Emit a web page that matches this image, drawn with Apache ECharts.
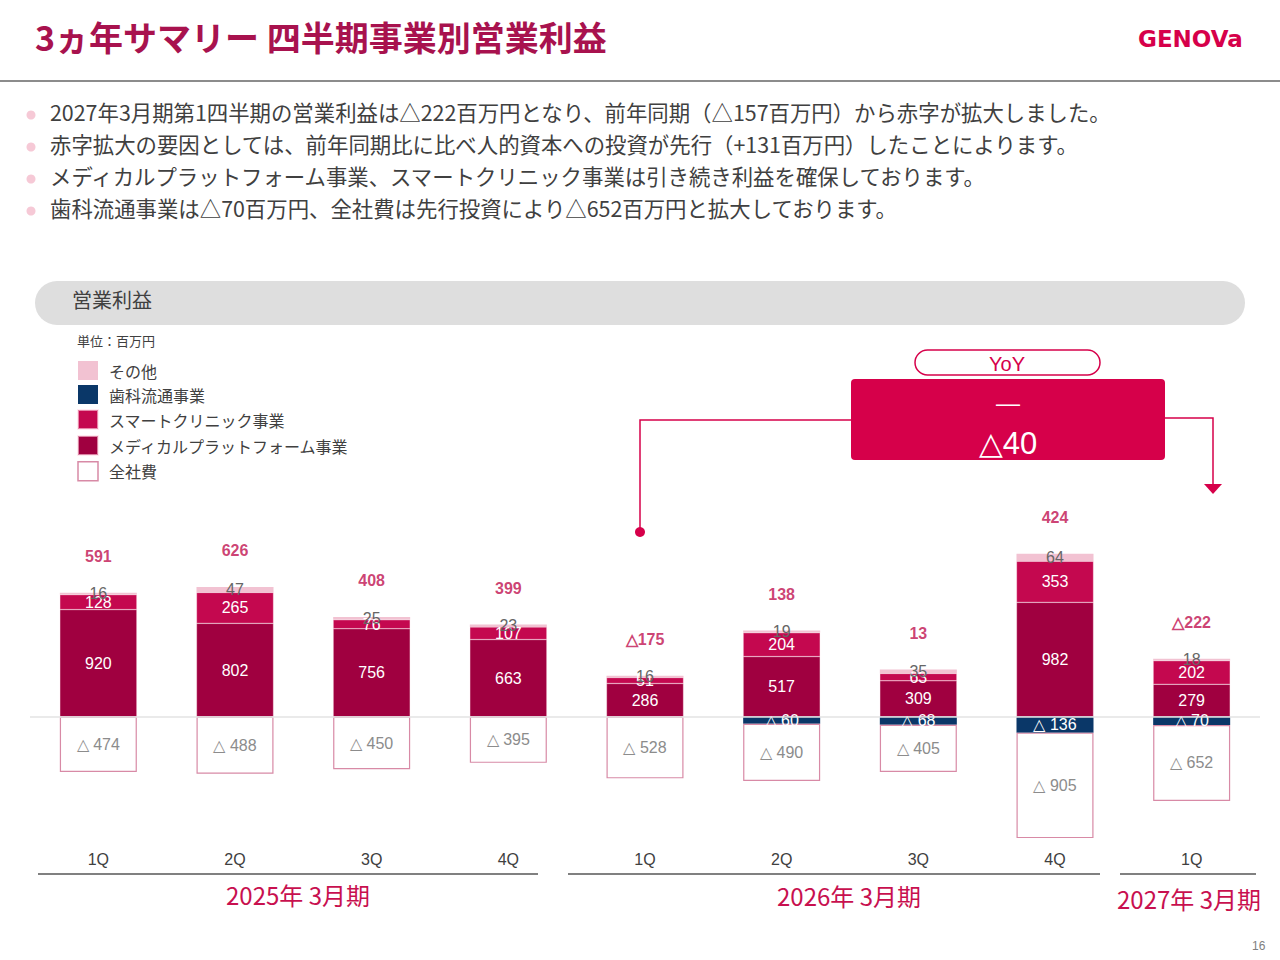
<html>
<head>
<meta charset="utf-8">
<script src="https://cdn.jsdelivr.net/npm/echarts@6/dist/echarts.min.js"></script>
<style>
  html, body { margin: 0; padding: 0; background: #fff; }
  #main { width: 1280px; height: 960px; }
</style>
</head>
<body>
<div id="main"></div>
<script type="text/javascript">
// 四半期ラベル
var categories = ['1Q', '2Q', '3Q', '4Q', '1Q', '2Q', '3Q', '4Q', '1Q'];
// 事業別営業利益（百万円）
var medical   = [920, 802, 756, 663, 286, 517, 309, 982, 279];
var smart     = [128, 265, 76, 107, 51, 204, 63, 353, 202];
var other     = [16, 47, 25, 23, 16, 19, 35, 64, 18];
var dental    = [null, null, null, null, null, -60, -68, -136, -70];
var corporate = [-474, -488, -450, -395, -528, -490, -405, -905, -652];
// 合計（資料記載値）
var totals    = [591, 626, 408, 399, -175, 138, 13, 424, -222];

var bullets = [
  '2027年3月期第1四半期の営業利益は△222百万円となり、前年同期（△157百万円）から赤字が拡大しました。',
  '赤字拡大の要因としては、前年同期比に比べ人的資本への投資が先行（+131百万円）したことによります。',
  'メディカルプラットフォーム事業、スマートクリニック事業は引き続き利益を確保しております。',
  '歯科流通事業は△70百万円、全社費は先行投資により△652百万円と拡大しております。'
];

var FONT = '"Noto Sans CJK JP", "Liberation Sans", sans-serif';
var NUM_FONT = '"Liberation Sans", Arial, sans-serif';
var C_MED = '#A00040', C_SMART = '#C4084F', C_OTHER = '#F2C2D2',
    C_DENTAL = '#0A3768', C_CORP_BORDER = '#D88AA6', C_RED = '#D6004A';

function tri(v, space) {
  if (v == null) return '';
  return v < 0 ? '△' + (space ? ' ' : '') + Math.abs(v) : String(v);
}

var positiveTop = medical.map(function (v, i) { return v + smart[i] + other[i]; });

var myChart = echarts.init(document.getElementById('main'), null, { renderer: 'svg' });

var graphics = [
  // ヘッダー
  { type: 'text', left: 35, top: 19, style: { text: '3ヵ年サマリー 四半期事業別営業利益', fill: '#A8124E',
      font: 'bold 34px ' + FONT } },
  { type: 'text', left: 1138, top: 27, style: { text: 'GENOVa', fill: C_RED,
      font: 'bold 23px "DejaVu Sans", sans-serif' } },
  { type: 'rect', shape: { x: 0, y: 80, width: 1280, height: 2 }, style: { fill: '#8C8C8C' } },
  // セクション見出し
  { type: 'rect', shape: { x: 35, y: 281, width: 1210, height: 44, r: 22 }, style: { fill: '#DEDEDE' } },
  { type: 'text', left: 72, top: 289, style: { text: '営業利益', fill: '#404040', font: '20px ' + FONT } },
  { type: 'text', left: 77, top: 334, style: { text: '単位：百万円', fill: '#404040', font: '13px ' + FONT } },
  // YoY
  { type: 'rect', shape: { x: 915, y: 350, width: 185, height: 25, r: 12.5 },
    style: { fill: '#fff', stroke: C_RED, lineWidth: 1.5 } },
  { type: 'text', x: 1007, y: 364, style: { text: 'YoY', fill: C_RED, font: '20px ' + NUM_FONT,
      align: 'center', verticalAlign: 'middle' } },
  { type: 'polyline', shape: { points: [[640, 531], [640, 420], [851, 420]] },
    style: { stroke: C_RED, lineWidth: 1.5, fill: null } },
  { type: 'circle', shape: { cx: 640, cy: 532, r: 5 }, style: { fill: C_RED } },
  { type: 'polyline', shape: { points: [[1165, 418], [1213, 418], [1213, 486]] },
    style: { stroke: C_RED, lineWidth: 1.5, fill: null } },
  { type: 'polygon', shape: { points: [[1204, 484], [1222, 484], [1213, 494]] }, style: { fill: C_RED } },
  { type: 'rect', shape: { x: 851, y: 379, width: 314, height: 81, r: 4 }, style: { fill: C_RED } },
  { type: 'text', x: 1008, y: 402, style: { text: '—', fill: '#fff', font: '24px ' + NUM_FONT,
      align: 'center', verticalAlign: 'middle' } },
  { type: 'text', x: 1008, y: 443, style: { text: '△40', fill: '#fff', font: '31px ' + NUM_FONT,
      align: 'center', verticalAlign: 'middle' } },
  // 期区分
  { type: 'rect', shape: { x: 38, y: 873, width: 500, height: 2 }, style: { fill: '#808080' } },
  { type: 'rect', shape: { x: 568, y: 873, width: 532, height: 2 }, style: { fill: '#808080' } },
  { type: 'rect', shape: { x: 1120, y: 873, width: 136, height: 2 }, style: { fill: '#808080' } },
  { type: 'text', x: 298, y: 894, style: { text: '2025年 3月期', fill: '#C8104F', font: '24px ' + FONT,
      align: 'center', verticalAlign: 'middle' } },
  { type: 'text', x: 849, y: 895, style: { text: '2026年 3月期', fill: '#C8104F', font: '24px ' + FONT,
      align: 'center', verticalAlign: 'middle' } },
  { type: 'text', x: 1189, y: 898, style: { text: '2027年 3月期', fill: '#C8104F', font: '24px ' + FONT,
      align: 'center', verticalAlign: 'middle' } },
  { type: 'text', left: 1252, top: 940, style: { text: '16', fill: '#808080', font: '12px ' + NUM_FONT } }
];

bullets.forEach(function (t, i) {
  var y = 115 + i * 32;
  graphics.push({ type: 'circle', shape: { cx: 31, cy: y, r: 4.5 }, style: { fill: '#F6C9D6' } });
  graphics.push({ type: 'text', left: 50, top: y - 14, style: { text: t, fill: '#404040', font: '21.4px ' + FONT } });
});

var segLabel = function (color) {
  return { show: true, position: 'inside', color: color, fontSize: 16, fontFamily: NUM_FONT,
    formatter: function (p) { return tri(p.value, true); } };
};

myChart.setOption({
  animation: false,
  graphic: graphics,
  legend: {
    orient: 'vertical', left: 77, top: 361, padding: 0, itemWidth: 20, itemHeight: 19, itemGap: 5,
    icon: 'rect',
    textStyle: { color: '#404040', fontSize: 16, fontFamily: FONT, lineHeight: 19, padding: [0, 0, 0, 6] },
    data: [
      { name: 'その他', itemStyle: { color: C_OTHER } },
      { name: '歯科流通事業', itemStyle: { color: C_DENTAL } },
      { name: 'スマートクリニック事業', itemStyle: { color: C_SMART } },
      { name: 'メディカルプラットフォーム事業', itemStyle: { color: C_MED } },
      { name: '全社費', itemStyle: { color: '#fff', borderColor: C_CORP_BORDER, borderWidth: 1.5 } }
    ]
  },
  grid: { left: 30, right: 20, top: 542, bottom: 115 },
  xAxis: {
    type: 'category', data: categories,
    axisLine: { show: false }, axisTick: { show: false },
    axisLabel: { color: '#404040', fontSize: 16, fontFamily: NUM_FONT, margin: 6 }
  },
  yAxis: {
    type: 'value', min: -1100, max: 1500, show: false, splitLine: { show: false }
  },
  series: [
    { name: 'メディカルプラットフォーム事業', type: 'bar', stack: 'a', barWidth: 77, data: medical,
      itemStyle: { color: C_MED, borderColor: 'rgba(255,220,230,0.6)', borderWidth: 0.5 },
      label: segLabel('#fff'),
      markLine: { silent: true, symbol: 'none', label: { show: false },
        lineStyle: { color: '#E3E3E3', type: 'solid', width: 1.5 }, data: [{ yAxis: 0 }] } },
    { name: 'スマートクリニック事業', type: 'bar', stack: 'a', data: smart,
      itemStyle: { color: C_SMART, borderColor: 'rgba(255,220,230,0.6)', borderWidth: 0.5 },
      label: segLabel('#fff') },
    { name: 'その他', type: 'bar', stack: 'a', data: other,
      itemStyle: { color: C_OTHER },
      label: segLabel('#666') },
    { name: '歯科流通事業', type: 'bar', stack: 'a', data: dental,
      itemStyle: { color: C_DENTAL },
      label: segLabel('#fff') },
    { name: '全社費', type: 'bar', stack: 'a', data: corporate,
      itemStyle: { color: '#fff', borderColor: C_CORP_BORDER, borderWidth: 1.2 },
      label: segLabel('#8C8C8C') },
    { name: '合計', type: 'scatter', symbolSize: 0, silent: true,
      data: positiveTop.map(function (v, i) { return [i, v, totals[i]]; }),
      label: { show: true, position: 'top', distance: 28, color: '#C0104F', fontSize: 16,
        fontWeight: 'bold', fontFamily: NUM_FONT,
        formatter: function (p) { return tri(p.value[2], false); } } }
  ]
});
</script>
</body>
</html>
